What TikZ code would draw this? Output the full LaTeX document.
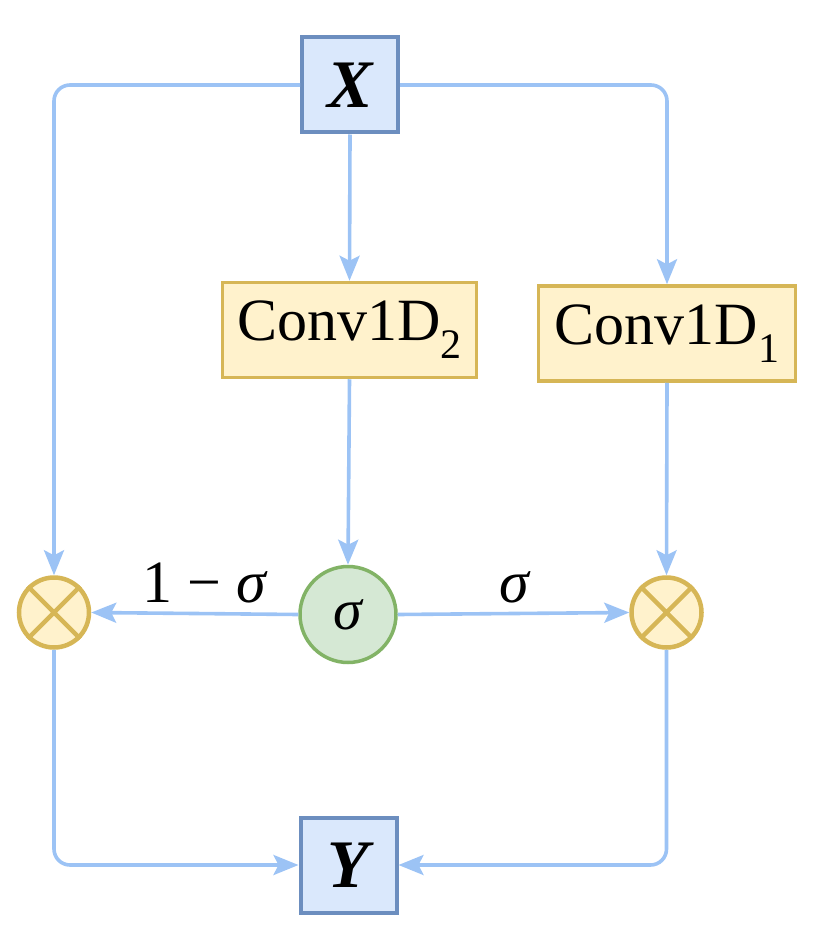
\documentclass[tikz,border=0pt]{standalone}
\usepackage{fontspec}
\setmainfont{Liberation Serif}
\usetikzlibrary{arrows.meta}
\definecolor{lineblue}{HTML}{9CC3F5}
\definecolor{bluefill}{HTML}{DAE8FC}
\definecolor{bluedraw}{HTML}{6C8EBF}
\definecolor{yelfill}{HTML}{FFF2CC}
\definecolor{yeldraw}{HTML}{D6B656}
\definecolor{grnfill}{HTML}{D5E8D4}
\definecolor{grndraw}{HTML}{82B366}
\newcommand{\mysub}[1]{\raisebox{-0.3em}{\fontsize{42}{42}\selectfont #1}}
\tikzset{
  iobox/.style={draw=bluedraw, fill=bluefill, line width=4pt, minimum width=96pt, minimum height=95pt, inner sep=0pt, font=\fontsize{68}{70}\selectfont\bfseries\itshape},
  convbox/.style={draw=yeldraw, fill=yelfill, line width=3.5pt, minimum width=254pt, minimum height=95pt, inner sep=0pt, font=\fontsize{60}{66}\selectfont},
  sigcirc/.style={circle, draw=grndraw, fill=grnfill, line width=3.5pt, minimum size=96pt, inner sep=0pt, font=\fontsize{58}{60}\selectfont\itshape},
  mulcirc/.style={circle, draw=yeldraw, fill=yelfill, line width=4.5pt, minimum size=70pt, inner sep=0pt},
  conn/.style={draw=lineblue, line width=3.6pt, rounded corners=16pt, -{Stealth[length=25pt, width=20pt, inset=5pt]}},
  lbl/.style={font=\fontsize{60}{66}\selectfont, anchor=base, inner sep=0pt}
}
\begin{document}
\begin{tikzpicture}[x=1pt, y=-1pt]
\useasboundingbox (0,0) rectangle (814,936);
\node[iobox] (X) at (350,85) {X};
\node[convbox] (C2) at (349.5,330) {Conv1D\mysub{2}};
\node[convbox, minimum width=257pt] (C1) at (667,333.5) {Conv1D\mysub{1}};
\node[sigcirc] (S) at (348,614.5) {σ};
\node[mulcirc] (L) at (54,612.5) {};
\node[mulcirc] (R) at (666.5,612.5) {};
\draw[yeldraw, line width=4.5pt] (L.north west) -- (L.south east) (L.north east) -- (L.south west);
\draw[yeldraw, line width=4.5pt] (R.north west) -- (R.south east) (R.north east) -- (R.south west);
\node[iobox] (Y) at (348.5,865) {Y};
\draw[conn] (X.west) -| (L.north);
\draw[conn] (X.east) -| (C1.north);
\draw[conn] (X.south) -- (C2.north);
\draw[conn] (C2.south) -- (S.north);
\draw[conn] (C1.south) -- (R.north);
\draw[conn] (S.west) -- (L.east);
\draw[conn] (S.east) -- (R.west);
\draw[conn] (L.south) |- (Y.west);
\draw[conn] (R.south) |- (Y.east);
\node[lbl] (l1) at (205,602) {1 − \textit{σ}};
\node[lbl] (l2) at (515,602) {\textit{σ}};
\end{tikzpicture}
\end{document}
